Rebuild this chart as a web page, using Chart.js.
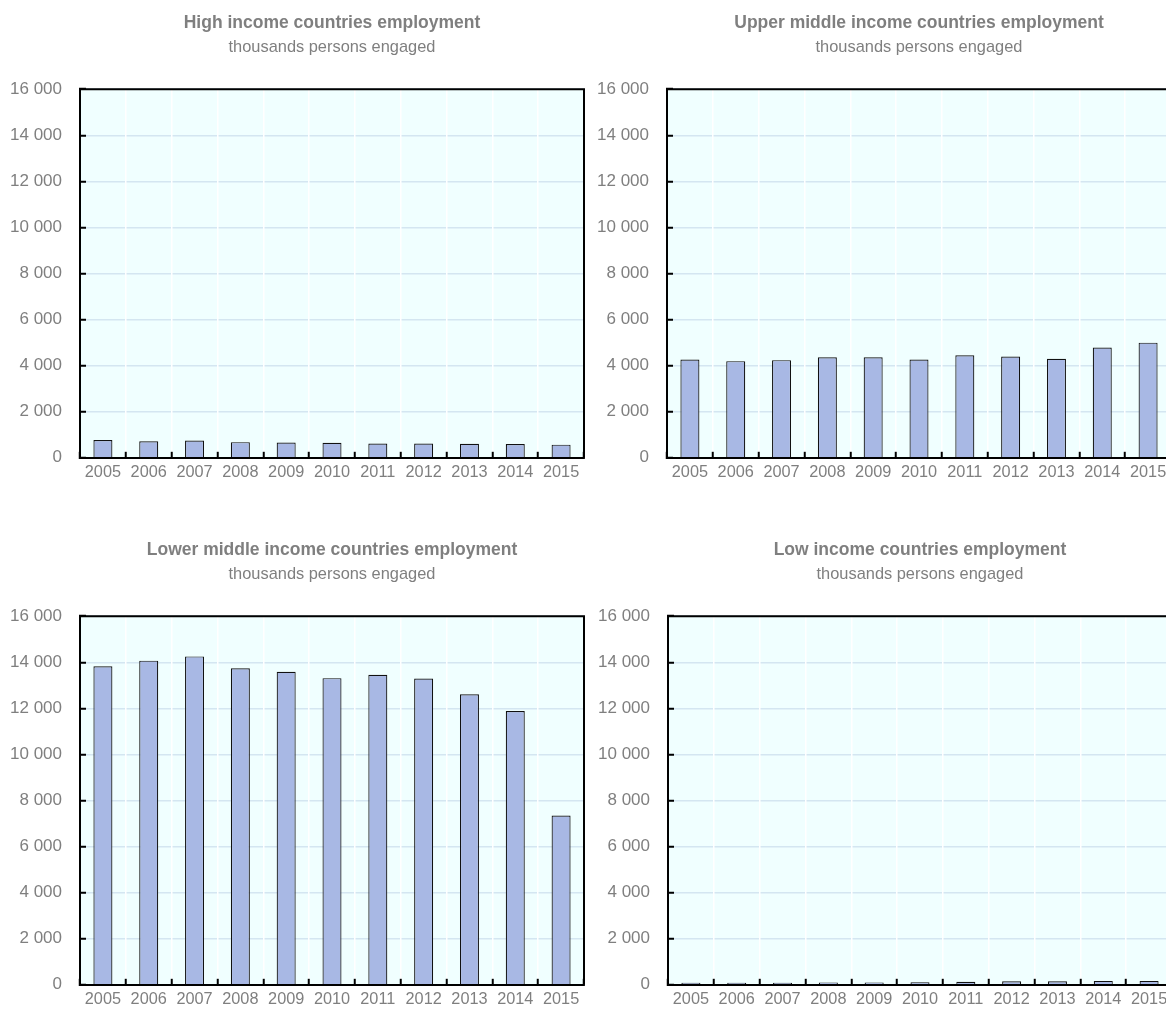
<!DOCTYPE html>
<html>
<head>
<meta charset="utf-8">
<title>Employment by income group</title>
<script src="https://cdn.jsdelivr.net/npm/chart.js@4.4.0/dist/chart.umd.min.js"></script>
<style>
  html, body { margin: 0; padding: 0; background: #fff; overflow: hidden; }
  body { width: 1166px; height: 1011px; position: relative; }
  canvas { position: absolute; }
</style>
</head>
<body>
<canvas id="c1" width="594" height="492" style="left:0px;top:0px"></canvas>
<canvas id="c2" width="594" height="492" style="left:587px;top:0px"></canvas>
<canvas id="c3" width="594" height="492" style="left:0px;top:527px"></canvas>
<canvas id="c4" width="594" height="492" style="left:588px;top:527px"></canvas>
<script>
// data (thousands persons engaged)
const years = ['2005', '2006', '2007', '2008', '2009', '2010', '2011', '2012', '2013', '2014', '2015'];
const highIncome = [770, 720, 750, 680, 665, 650, 620, 620, 610, 600, 570];
const upperMiddle = [4268, 4196, 4239, 4367, 4367, 4268, 4453, 4397, 4298, 4783, 4998];
const lowerMiddle = [13825, 14070, 14254, 13739, 13585, 13310, 13456, 13297, 12611, 11882, 7348];
const lowIncome = [90, 90, 90, 100, 100, 110, 130, 150, 150, 170, 170];
const yTicks = { min: 0, max: 16000, step: 2000 };
const subtitleText = 'thousands persons engaged';

const textGrey = '#7f7f7f';
Chart.defaults.font.family = "'Liberation Sans', Arial, sans-serif";

// azure plot background + black frame on top and right
const plotFrame = {
  id: 'plotFrame',
  beforeDraw(chart) {
    const { ctx, chartArea: a } = chart;
    ctx.save();
    ctx.fillStyle = '#F0FFFF';
    ctx.fillRect(a.left, a.top, a.width, a.height);
    ctx.restore();
  },
  afterDraw(chart) {
    const { ctx, chartArea: a } = chart;
    ctx.save();
    ctx.strokeStyle = '#000';
    ctx.lineWidth = 2;
    ctx.beginPath();
    ctx.moveTo(a.left, a.top);
    ctx.lineTo(a.right, a.top);
    ctx.lineTo(a.right, a.bottom);
    ctx.stroke();
    ctx.restore();
  }
};

function spaced(v) {
  return String(v).replace(/\B(?=(\d{3})+(?!\d))/g, ' ');
}

function makeChart(id, title, values) {
  const ctx = document.getElementById(id).getContext('2d');
  return new Chart(ctx, {
    type: 'bar',
    data: {
      labels: years,
      datasets: [{
        label: title,
        data: values,
        backgroundColor: '#A8B8E4',
        borderColor: '#111111',
        borderWidth: 1.2,
        barPercentage: 0.415,
        categoryPercentage: 1
      }]
    },
    options: {
      responsive: false,
      animation: false,
      layout: { padding: { left: 0, right: 10, top: 0, bottom: 0 } },
      plugins: {
        legend: { display: false },
        tooltip: { enabled: false },
        title: {
          display: true,
          text: title,
          fullSize: false,
          color: textGrey,
          font: { size: 17.5, weight: 'bold' },
          padding: { top: 13, bottom: 0 }
        },
        subtitle: {
          display: true,
          text: subtitleText,
          fullSize: false,
          color: textGrey,
          font: { size: 16.4 },
          padding: { top: 4, bottom: 31.5 }
        }
      },
      scales: {
        x: {
          grid: { offset: true, color: '#ffffff', lineWidth: 1.5, tickColor: '#000', tickWidth: 2, tickLength: -6, z: -1 },
          border: { color: '#000', width: 2, z: 1 },
          ticks: { color: textGrey, font: { size: 16.3 }, padding: 11, maxRotation: 0, autoSkip: false },
          afterFit(s) { s.height = 30; }
        },
        y: {
          min: yTicks.min,
          max: yTicks.max,
          grid: { color: '#d4e6f1', lineWidth: 1.5, tickColor: '#000', tickWidth: 2, tickLength: -6, z: -2 },
          border: { color: '#000', width: 2, z: 1 },
          ticks: {
            stepSize: yTicks.step,
            padding: 24,
            color: textGrey,
            font: { size: 17 },
            callback: (v) => spaced(v)
          },
          afterFit(s) { s.width = 80; }
        }
      }
    },
    plugins: [plotFrame]
  });
}

makeChart('c1', 'High income countries employment', highIncome);
makeChart('c2', 'Upper middle income countries employment', upperMiddle);
makeChart('c3', 'Lower middle income countries employment', lowerMiddle);
makeChart('c4', 'Low income countries employment', lowIncome);
</script>
</body>
</html>
